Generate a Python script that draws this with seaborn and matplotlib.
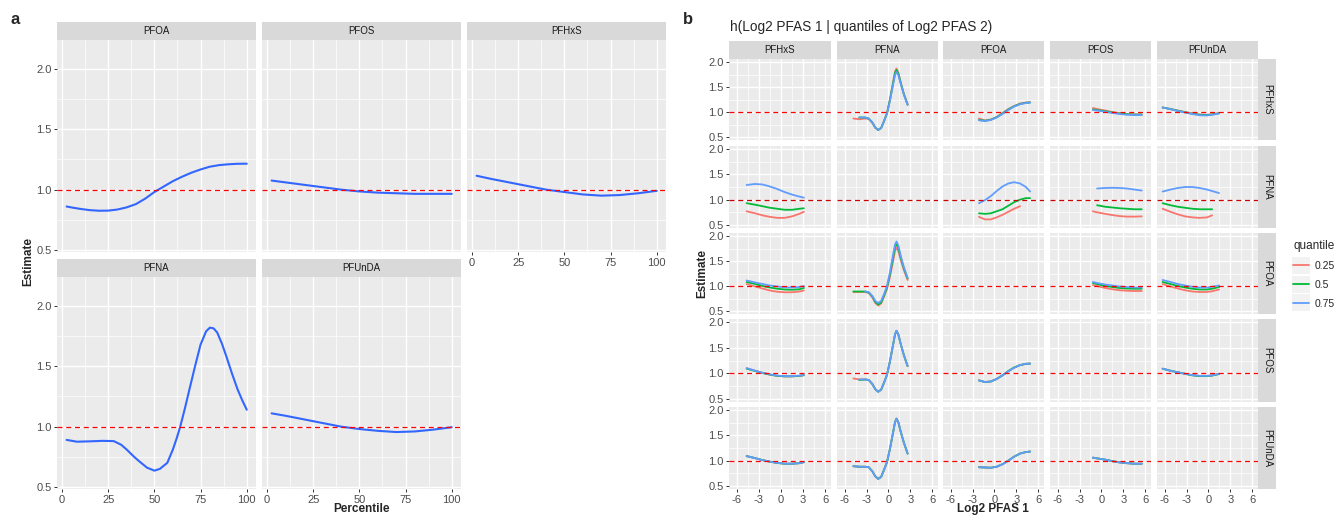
import numpy as np
import pandas as pd
import seaborn as sns
import matplotlib.pyplot as plt
from matplotlib.ticker import MultipleLocator
from matplotlib.patches import Rectangle
from matplotlib.transforms import IdentityTransform

nan = np.nan

# ---------------- panel a: estimate by percentile ----------------
pct_pfoa = [2.5, 6, 10, 15, 20, 25, 30, 35, 40, 45, 50, 55, 60, 65, 70, 75, 80, 85, 90, 95, 100]
est_pfoa = [0.86, 0.85, 0.84, 0.83, 0.825, 0.826, 0.835, 0.853, 0.88, 0.925, 0.98,
            1.025, 1.07, 1.107, 1.14, 1.167, 1.19, 1.203, 1.21, 1.214, 1.215]

pct_pfos = [2.5, 10, 20, 30, 40, 50, 60, 70, 80, 90, 100]
est_pfos = [1.075, 1.06, 1.04, 1.02, 1.0, 0.985, 0.975, 0.97, 0.965, 0.965, 0.965]

pct_pfhxs = [2.5, 10, 20, 30, 40, 50, 60, 70, 80, 90, 100]
est_pfhxs = [1.115, 1.09, 1.06, 1.03, 1.0, 0.98, 0.96, 0.95, 0.955, 0.97, 0.99]

pct_pfna = [2.5, 8, 15, 22, 28, 32, 35, 39, 42, 46, 50, 53, 57, 60, 62, 64, 66.5,
            69, 72, 75, 78, 80, 82, 84, 86.5, 89, 92, 95, 97.5, 100]
est_pfna = [0.89, 0.875, 0.878, 0.882, 0.88, 0.85, 0.81, 0.75, 0.71, 0.66, 0.635,
            0.65, 0.70, 0.81, 0.9, 1.0, 1.15, 1.31, 1.5, 1.68, 1.79, 1.82, 1.815,
            1.78, 1.69, 1.58, 1.44, 1.31, 1.22, 1.14]

pct_pfunda = [2.5, 10, 20, 30, 40, 50, 60, 70, 80, 90, 100]
est_pfunda = [1.11, 1.09, 1.06, 1.03, 1.0, 0.98, 0.965, 0.955, 0.96, 0.975, 0.995]

# ---------------- panel b: h(PFAS 1 | quantiles of PFAS 2) ----------------
pfas = ["PFHxS", "PFNA", "PFOA", "PFOS", "PFUnDA"]
quantiles = ["0.25", "0.5", "0.75"]

# grid of Log2 PFAS 1 for each column
x_pfhxs = [-4.65, -3.5, -2.5, -1.5, -0.5, 0.5, 1.5, 2.5, 3.1]
x_pfna = [-4.8, -4.0, -3.2, -2.7, -2.2, -1.8, -1.4, -1.0, -0.6, -0.2,
          0.2, 0.6, 0.9, 1.1, 1.35, 1.7, 2.1, 2.62]
x_pfoa = [-2.12, -1.3, -0.5, 0.3, 1.1, 1.9, 2.7, 3.5, 4.3, 4.88]
x_pfos = [-1.17, -0.6, 0.5, 1.5, 2.5, 3.5, 4.5, 5.51]
x_pfunda = [-6.27, -5.2, -4.2, -3.2, -2.2, -1.2, -0.2, 0.5, 1.45]

# curves named <pfas1>_at_<pfas2>: (q 0.25, q 0.5, q 0.75)
pfna_at_pfhxs = (
    [0.87, 0.855, 0.87, 0.86, 0.78, 0.68, 0.64, 0.68, 0.82, 0.98, 1.25, 1.57, 1.81, 1.87, 1.79, 1.58, 1.37, 1.15],
    [nan, 0.89, 0.89, 0.87, 0.79, 0.69, 0.64, 0.68, 0.82, 0.97, 1.24, 1.55, 1.78, 1.84, 1.77, 1.57, 1.36, 1.15],
    [nan, 0.89, 0.89, 0.87, 0.79, 0.69, 0.645, 0.68, 0.82, 0.97, 1.22, 1.52, 1.74, 1.80, 1.74, 1.55, 1.35, 1.14])
pfoa_at_pfhxs = (
    [0.87, 0.83, 0.85, 0.9, 0.98, 1.06, 1.12, 1.17, 1.19, 1.195],
    [0.84, 0.825, 0.845, 0.895, 0.97, 1.05, 1.115, 1.16, 1.185, 1.19],
    [0.835, 0.82, 0.84, 0.89, 0.96, 1.04, 1.11, 1.155, 1.18, 1.19])
pfos_at_pfhxs = (
    [1.08, 1.06, 1.03, 1.0, 0.975, 0.96, 0.95, 0.95],
    [1.05, 1.04, 1.015, 0.99, 0.97, 0.955, 0.95, 0.95],
    [1.04, 1.03, 1.005, 0.98, 0.96, 0.945, 0.94, 0.94])
pfunda_at_pfhxs = (
    [1.09, 1.06, 1.03, 1.0, 0.97, 0.95, 0.945, 0.955, 0.98],
    [1.09, 1.06, 1.025, 0.995, 0.965, 0.945, 0.94, 0.95, 0.975],
    [1.09, 1.055, 1.02, 0.99, 0.96, 0.935, 0.93, 0.945, 0.97])

pfhxs_at_pfna = (
    [0.77, 0.73, 0.69, 0.66, 0.64, 0.64, 0.67, 0.72, 0.76],
    [0.93, 0.90, 0.87, 0.84, 0.82, 0.80, 0.80, 0.82, 0.83],
    [1.29, 1.31, 1.30, 1.26, 1.21, 1.15, 1.10, 1.06, 1.04])
pfoa_at_pfna = (
    [0.66, 0.61, 0.61, 0.65, 0.70, 0.76, 0.82, 0.87, nan, nan],
    [0.73, 0.72, 0.73, 0.77, 0.81, 0.88, 0.95, 1.0, 1.03, 1.03],
    [0.93, 0.99, 1.07, 1.17, 1.26, 1.32, 1.345, 1.32, 1.25, 1.16])
pfos_at_pfna = (
    [0.77, 0.75, 0.72, 0.695, 0.675, 0.665, 0.665, 0.67],
    [nan, 0.89, 0.86, 0.845, 0.83, 0.82, 0.81, 0.81],
    [nan, 1.22, 1.23, 1.235, 1.23, 1.22, 1.20, 1.18])
pfunda_at_pfna = (
    [0.82, 0.76, 0.71, 0.67, 0.65, 0.64, 0.65, 0.69, nan],
    [0.93, 0.89, 0.86, 0.84, 0.82, 0.81, 0.81, 0.81, nan],
    [1.16, 1.2, 1.23, 1.25, 1.25, 1.23, 1.2, 1.17, 1.13])

pfhxs_at_pfoa = (
    [1.04, 0.99, 0.95, 0.91, 0.885, 0.875, 0.875, 0.89, 0.91],
    [1.08, 1.04, 1.0, 0.97, 0.945, 0.93, 0.925, 0.935, 0.96],
    [1.11, 1.07, 1.04, 1.01, 0.99, 0.975, 0.97, 0.98, 1.0])
pfna_at_pfoa = (
    [0.88, 0.88, 0.88, 0.86, 0.77, 0.66, 0.61, 0.65, 0.79, 0.94, 1.18, 1.47, 1.70, 1.77, 1.70, 1.51, 1.32, 1.12],
    [0.89, 0.89, 0.89, 0.87, 0.79, 0.68, 0.63, 0.67, 0.81, 0.97, 1.23, 1.54, 1.78, 1.84, 1.77, 1.56, 1.36, 1.15],
    [nan, nan, 0.89, 0.88, 0.80, 0.70, 0.66, 0.70, 0.84, 1.0, 1.27, 1.60, 1.83, 1.89, 1.81, 1.59, 1.38, 1.16])
pfos_at_pfoa = (
    [1.02, 1.0, 0.96, 0.935, 0.915, 0.905, 0.9, 0.9],
    [1.06, 1.04, 1.0, 0.98, 0.96, 0.95, 0.945, 0.945],
    [1.08, 1.06, 1.03, 1.01, 0.99, 0.98, 0.97, 0.97])
pfunda_at_pfoa = (
    [1.04, 0.99, 0.95, 0.915, 0.89, 0.88, 0.88, 0.895, 0.93],
    [1.08, 1.04, 1.0, 0.97, 0.945, 0.93, 0.93, 0.945, 0.98],
    [1.12, 1.08, 1.04, 1.01, 0.985, 0.97, 0.97, 0.985, 1.01])

pfhxs_at_pfos = (
    [1.10, 1.05, 1.01, 0.975, 0.95, 0.94, 0.94, 0.95, 0.96],
    [1.09, 1.045, 1.005, 0.975, 0.95, 0.94, 0.94, 0.95, 0.965],
    [1.10, 1.05, 1.01, 0.98, 0.955, 0.945, 0.945, 0.955, 0.965])
pfna_at_pfos = (
    [0.90, 0.88, 0.88, 0.87, 0.79, 0.69, 0.64, 0.68, 0.82, 0.97, 1.23, 1.53, 1.76, 1.83, 1.76, 1.56, 1.36, 1.14],
    [nan, 0.87, 0.88, 0.87, 0.79, 0.69, 0.64, 0.68, 0.82, 0.97, 1.23, 1.53, 1.76, 1.83, 1.76, 1.56, 1.36, 1.14],
    [nan, 0.88, 0.88, 0.87, 0.79, 0.69, 0.64, 0.68, 0.82, 0.97, 1.23, 1.53, 1.76, 1.83, 1.76, 1.56, 1.36, 1.14])
pfoa_at_pfos = (
    [0.865, 0.83, 0.84, 0.89, 0.96, 1.04, 1.11, 1.16, 1.185, 1.19],
    [0.86, 0.83, 0.84, 0.89, 0.96, 1.045, 1.115, 1.16, 1.185, 1.19],
    [0.86, 0.83, 0.84, 0.89, 0.96, 1.04, 1.11, 1.16, 1.185, 1.19])
pfunda_at_pfos = (
    [1.09, 1.05, 1.02, 0.99, 0.965, 0.95, 0.95, 0.96, 0.99],
    [1.09, 1.05, 1.02, 0.99, 0.96, 0.945, 0.945, 0.955, 0.985],
    [1.09, 1.05, 1.02, 0.99, 0.965, 0.95, 0.95, 0.96, 0.99])

pfhxs_at_pfunda = (
    [1.09, 1.05, 1.01, 0.98, 0.955, 0.94, 0.94, 0.95, 0.97],
    [1.09, 1.05, 1.01, 0.98, 0.955, 0.94, 0.94, 0.95, 0.97],
    [1.09, 1.05, 1.01, 0.98, 0.955, 0.94, 0.94, 0.95, 0.97])
pfna_at_pfunda = (
    [0.89, 0.88, 0.88, 0.87, 0.79, 0.69, 0.64, 0.68, 0.82, 0.97, 1.23, 1.53, 1.76, 1.83, 1.76, 1.56, 1.36, 1.14],
    [0.89, 0.88, 0.88, 0.87, 0.79, 0.69, 0.64, 0.68, 0.82, 0.97, 1.23, 1.53, 1.76, 1.83, 1.76, 1.56, 1.36, 1.14],
    [0.89, 0.88, 0.88, 0.87, 0.79, 0.69, 0.64, 0.68, 0.82, 0.97, 1.23, 1.53, 1.76, 1.83, 1.76, 1.56, 1.36, 1.14])
pfoa_at_pfunda = (
    [0.87, 0.865, 0.86, 0.88, 0.93, 1.0, 1.08, 1.14, 1.17, 1.18],
    [0.87, 0.865, 0.86, 0.88, 0.93, 1.0, 1.08, 1.14, 1.17, 1.18],
    [0.87, 0.865, 0.86, 0.88, 0.93, 1.0, 1.08, 1.14, 1.17, 1.18])
pfos_at_pfunda = (
    [1.06, 1.045, 1.02, 0.99, 0.965, 0.95, 0.94, 0.94],
    [1.06, 1.045, 1.02, 0.99, 0.965, 0.95, 0.94, 0.94],
    [1.06, 1.045, 1.02, 0.99, 0.965, 0.95, 0.94, 0.94])

# ---------------- long tables ----------------
panel_a = [("PFOA", pct_pfoa, est_pfoa), ("PFOS", pct_pfos, est_pfos),
           ("PFHxS", pct_pfhxs, est_pfhxs), ("PFNA", pct_pfna, est_pfna),
           ("PFUnDA", pct_pfunda, est_pfunda)]
df_a = pd.concat([pd.DataFrame({"pfas": n, "Percentile": p, "Estimate": e})
                  for n, p, e in panel_a], ignore_index=True)

x_grid = {"PFHxS": x_pfhxs, "PFNA": x_pfna, "PFOA": x_pfoa,
          "PFOS": x_pfos, "PFUnDA": x_pfunda}
curves = {
    ("PFNA", "PFHxS"): pfna_at_pfhxs, ("PFOA", "PFHxS"): pfoa_at_pfhxs,
    ("PFOS", "PFHxS"): pfos_at_pfhxs, ("PFUnDA", "PFHxS"): pfunda_at_pfhxs,
    ("PFHxS", "PFNA"): pfhxs_at_pfna, ("PFOA", "PFNA"): pfoa_at_pfna,
    ("PFOS", "PFNA"): pfos_at_pfna, ("PFUnDA", "PFNA"): pfunda_at_pfna,
    ("PFHxS", "PFOA"): pfhxs_at_pfoa, ("PFNA", "PFOA"): pfna_at_pfoa,
    ("PFOS", "PFOA"): pfos_at_pfoa, ("PFUnDA", "PFOA"): pfunda_at_pfoa,
    ("PFHxS", "PFOS"): pfhxs_at_pfos, ("PFNA", "PFOS"): pfna_at_pfos,
    ("PFOA", "PFOS"): pfoa_at_pfos, ("PFUnDA", "PFOS"): pfunda_at_pfos,
    ("PFHxS", "PFUnDA"): pfhxs_at_pfunda, ("PFNA", "PFUnDA"): pfna_at_pfunda,
    ("PFOA", "PFUnDA"): pfoa_at_pfunda, ("PFOS", "PFUnDA"): pfos_at_pfunda,
}
parts = []
for (p1, p2), series in curves.items():
    for q, vals in zip(quantiles, series):
        parts.append(pd.DataFrame({"pfas1": p1, "pfas2": p2, "quantile": q,
                                   "x": x_grid[p1], "Estimate": vals}))
df_b = pd.concat(parts, ignore_index=True).dropna()

palette = {"0.25": "#F8766D", "0.5": "#00BA38", "0.75": "#619CFF"}

# ---------------- figure ----------------
sns.set_theme(style="darkgrid")
plt.rcParams["font.family"] = ["Liberation Sans", "DejaVu Sans"]
plt.rcParams["axes.unicode_minus"] = False

W, H = 1336, 515
fig = plt.figure(figsize=(W / 100, H / 100), dpi=100)
fig.patch.set_facecolor("white")


def px_axes(x0, y0, x1, y1):
    return fig.add_axes([x0 / W, 1 - y1 / H, (x1 - x0) / W, (y1 - y0) / H])


def strip(x0, y0, x1, y1, label, rot=0):
    ax = px_axes(x0, y0, x1, y1)
    ax.set_facecolor("#D9D9D9")
    ax.grid(False)
    ax.set_xticks([])
    ax.set_yticks([])
    for s in ax.spines.values():
        s.set_visible(False)
    ax.text(0.5, 0.5, label, ha="center", va="center", rotation=rot,
            fontsize=7, color="#1A1A1A", transform=ax.transAxes)


def style(ax, xlim, ylim, xmaj, ymaj, show_x, show_y):
    ax.set_facecolor("#EBEBEB")
    ax.set_xlim(xlim)
    ax.set_ylim(ylim)
    ax.xaxis.set_major_locator(MultipleLocator(xmaj))
    ax.xaxis.set_minor_locator(MultipleLocator(xmaj / 2))
    ax.yaxis.set_major_locator(MultipleLocator(ymaj))
    ax.yaxis.set_minor_locator(MultipleLocator(ymaj / 2))
    ax.grid(which="major", color="white", lw=1.0)
    ax.grid(which="minor", color="white", lw=0.5)
    ax.set_axisbelow(True)
    for s in ax.spines.values():
        s.set_visible(False)
    ax.tick_params(which="major", length=2.5, width=0.7, color="#333333",
                   labelsize=8, labelcolor="#4D4D4D", pad=1.5)
    ax.tick_params(which="minor", length=0)
    ax.tick_params(axis="x", bottom=show_x, labelbottom=show_x)
    ax.tick_params(axis="y", left=show_y, labelleft=show_y)
    ax.set_xlabel("")
    ax.set_ylabel("")


# ---- panel a ----
cols_a = [(57, 256), (262, 461), (467, 666)]
rows_a = [(40, 252), (277, 489)]
layout_a = [("PFOA", 0, 0), ("PFOS", 0, 1), ("PFHxS", 0, 2),
            ("PFNA", 1, 0), ("PFUnDA", 1, 1)]
for name, r, c in layout_a:
    x0, x1 = cols_a[c]
    y0, y1 = rows_a[r]
    strip(x0, y0 - 18, x1, y0, name)
    ax = px_axes(x0, y0, x1, y1)
    sns.lineplot(data=df_a[df_a["pfas"] == name], x="Percentile", y="Estimate",
                 color="#3366FF", lw=1.5, estimator=None, ax=ax)
    ax.axhline(1.0, color="#FF0000", lw=0.9, ls=(0, (4, 3)), zorder=3)
    style(ax, (-2.7, 105), (0.483, 2.24), 25, 0.5,
          show_x=(r == 1 or c == 2), show_y=(c == 0))

fig.text(15 / W, 1 - 20 / H, "a", fontsize=12, fontweight="bold",
         ha="center", va="center")
fig.text(28 / W, 1 - 262 / H, "Estimate", rotation=90, fontsize=8.5,
         fontweight="bold", ha="center", va="center")
fig.text(361 / W, 1 - 509 / H, "Percentile", fontsize=8.5, fontweight="bold",
         ha="center", va="center")

# ---- panel b ----
cols_b = [(729, 831), (837, 938), (943, 1044), (1050, 1151), (1157, 1258)]
rows_b = [(59, 140), (146, 228), (233, 314), (319, 402), (407, 489)]
legend_src = None
for j, p1 in enumerate(pfas):
    x0, x1 = cols_b[j]
    strip(x0, 41, x1, 59, p1)
for i, p2 in enumerate(pfas):
    y0, y1 = rows_b[i]
    strip(1258, y0, 1276, y1, p2, rot=-90)
    for j, p1 in enumerate(pfas):
        x0, x1 = cols_b[j]
        ax = px_axes(x0, y0, x1, y1)
        sub = df_b[(df_b["pfas1"] == p1) & (df_b["pfas2"] == p2)]
        if len(sub):
            sns.lineplot(data=sub, x="x", y="Estimate", hue="quantile",
                         hue_order=quantiles, palette=palette, lw=1.3,
                         estimator=None, sort=False, ax=ax,
                         legend=(legend_src is None))
            if legend_src is None:
                legend_src = ax
        dash_color = "#CC0000" if p2 == "PFNA" else "#FF0000"
        ax.axhline(1.0, color=dash_color, lw=0.9, ls=(0, (4, 3)), zorder=3)
        style(ax, (-7.04, 6.78), (0.44, 2.06), 3, 0.5,
              show_x=(i == 4), show_y=(j == 0))

handles, labels = legend_src.get_legend_handles_labels()
legend_src.get_legend().remove()
for h in handles:
    h.set_linewidth(1.3)
leg = fig.legend(handles, labels, title="quantile", loc="upper left",
                 bbox_to_anchor=(1293 / W, 1 - 240 / H), frameon=False,
                 borderpad=0, borderaxespad=0,
                 fontsize=7.5, title_fontsize=8.5, handlelength=1.5,
                 labelspacing=0.85, handletextpad=0.6, alignment="left")
leg.set_zorder(5)

fig.text(730 / W, 1 - 27 / H, "h(Log2 PFAS 1 | quantiles of Log2 PFAS 2)",
         fontsize=9.8, ha="left", va="center")
fig.text(688 / W, 1 - 20 / H, "b", fontsize=12, fontweight="bold",
         ha="center", va="center")
fig.text(702 / W, 1 - 274 / H, "Estimate", rotation=90, fontsize=8.5,
         fontweight="bold", ha="center", va="center")
fig.text(993 / W, 1 - 509 / H, "Log2 PFAS 1", fontsize=8.5, fontweight="bold",
         ha="center", va="center")

# grey key backgrounds behind legend lines
fig.canvas.draw()
renderer = fig.canvas.get_renderer()
for line in leg.get_lines():
    bb = line.get_window_extent(renderer)
    cx, cy = (bb.x0 + bb.x1) / 2, (bb.y0 + bb.y1) / 2
    fig.add_artist(Rectangle((cx - 9, cy - 8.5), 18, 17, facecolor="#F2F2F2",
                             edgecolor="none", transform=IdentityTransform(),
                             zorder=4))

fig.savefig("out.png", dpi=100)
